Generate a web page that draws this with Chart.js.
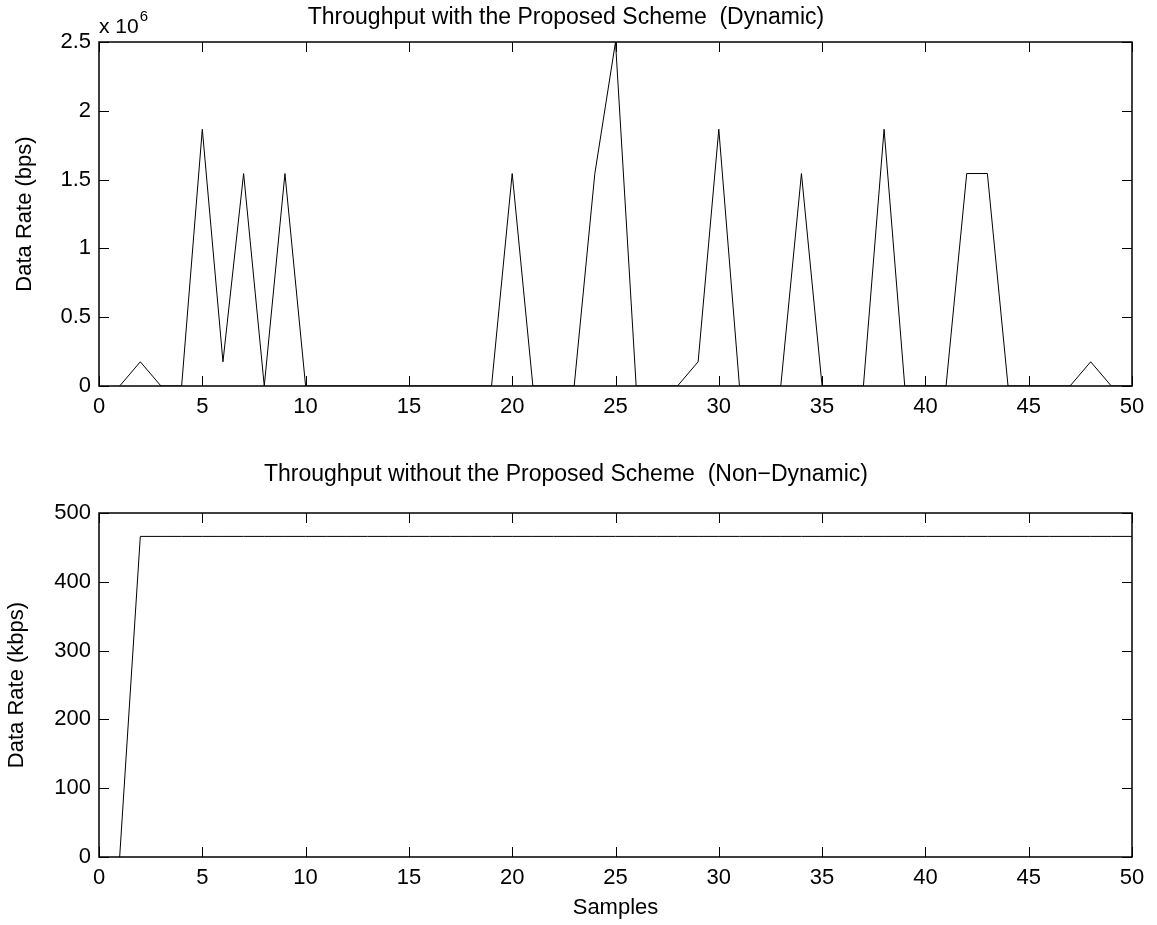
<!DOCTYPE html>
<html>
<head>
<meta charset="utf-8">
<title>Throughput</title>
<script src="https://cdn.jsdelivr.net/npm/chart.js@4/dist/chart.umd.min.js"></script>
<style>
  body { margin: 0; background: #fff; }
  canvas { display: block; }
</style>
</head>
<body>
<canvas id="dynamicChart" width="1157" height="460"></canvas>
<canvas id="staticChart" width="1157" height="465"></canvas>
<script>
/* ====================
   DATA
==================== */
const samples = [
  1, 2, 3, 4, 5, 6, 7, 8, 9, 10,
  11, 12, 13, 14, 15, 16, 17, 18, 19, 20,
  21, 22, 23, 24, 25, 26, 27, 28, 29, 30,
  31, 32, 33, 34, 35, 36, 37, 38, 39, 40,
  41, 42, 43, 44, 45, 46, 47, 48, 49, 50
];

// bps, with the proposed (dynamic) scheme
const dynamicRate = [
  0, 176000, 0, 0, 1866000, 176000, 1544000, 0, 1544000, 0,
  0, 0, 0, 0, 0, 0, 0, 0, 0, 1544000,
  0, 0, 0, 1544000, 2500000, 0, 0, 0, 176000, 1866000,
  0, 0, 0, 1544000, 0, 0, 0, 1866000, 0, 0,
  0, 1544000, 1544000, 0, 0, 0, 0, 176000, 0, 0
];

// kbps, without the proposed scheme
const staticRate = [
  0, 466, 466, 466, 466, 466, 466, 466, 466, 466,
  466, 466, 466, 466, 466, 466, 466, 466, 466, 466,
  466, 466, 466, 466, 466, 466, 466, 466, 466, 466,
  466, 466, 466, 466, 466, 466, 466, 466, 466, 466,
  466, 466, 466, 466, 466, 466, 466, 466, 466, 466
];

const sampleTicks = [0, 5, 10, 15, 20, 25, 30, 35, 40, 45, 50];
const dynamicTicks = [0, 500000, 1000000, 1500000, 2000000, 2500000];
const staticTicks = [0, 100, 200, 300, 400, 500];

/* ====================
   STYLE
==================== */
const FONT = '"Liberation Sans", Arial, Helvetica, sans-serif';
const TICK_LEN = 10;

Chart.defaults.font.family = FONT;
Chart.defaults.font.size = 22;
Chart.defaults.color = "#000";

// box around the plot with inward ticks on all four sides
const framePlugin = {
  id: "frame",
  afterDatasetsDraw(chart) {
    const { ctx, chartArea: a, scales: { x, y } } = chart;
    ctx.save();
    ctx.strokeStyle = "#000";
    ctx.lineWidth = 1;
    ctx.beginPath();
    x.ticks.forEach(t => {
      const px = Math.round(x.getPixelForValue(t.value)) + 0.5;
      ctx.moveTo(px, a.bottom);
      ctx.lineTo(px, a.bottom - TICK_LEN);
      ctx.moveTo(px, a.top);
      ctx.lineTo(px, a.top + TICK_LEN);
    });
    y.ticks.forEach(t => {
      const py = Math.round(y.getPixelForValue(t.value)) + 0.5;
      ctx.moveTo(a.left, py);
      ctx.lineTo(a.left + TICK_LEN, py);
      ctx.moveTo(a.right, py);
      ctx.lineTo(a.right - TICK_LEN, py);
    });
    ctx.stroke();
    ctx.lineWidth = 1.5;
    ctx.strokeRect(a.left, a.top, a.right - a.left, a.bottom - a.top);
    ctx.restore();
  }
};

// "x 10^6" multiplier above the y axis
const exponentPlugin = {
  id: "exponent",
  afterDraw(chart) {
    const { ctx, chartArea: a } = chart;
    ctx.save();
    ctx.fillStyle = "#000";
    ctx.textAlign = "left";
    ctx.textBaseline = "alphabetic";
    ctx.font = `21px ${FONT}`;
    ctx.fillText("x 10", a.left, a.top - 9);
    const w = ctx.measureText("x 10").width;
    ctx.font = `15px ${FONT}`;
    ctx.fillText("6", a.left + w + 1, a.top - 21);
    ctx.restore();
  }
};

function buildChart(canvas, opts) {
  return new Chart(canvas, {
    type: "line",
    data: {
      labels: samples,
      datasets: [{
        data: opts.values,
        borderColor: "#000",
        borderWidth: 1,
        pointRadius: 0,
        tension: 0,
        fill: false
      }]
    },
    options: {
      responsive: false,
      animation: false,
      devicePixelRatio: 1,
      layout: { padding: { left: 0, right: 25, top: 0, bottom: 0 } },
      plugins: {
        legend: { display: false },
        tooltip: { enabled: false },
        title: {
          display: true,
          text: opts.title,
          color: "#000",
          font: { size: 23, weight: "normal" },
          padding: opts.titlePadding
        }
      },
      scales: {
        x: {
          type: "linear",
          min: 0,
          max: 50,
          grid: { display: false, drawTicks: false },
          border: { display: false },
          ticks: { padding: 8, maxRotation: 0 },
          afterBuildTicks: s => { s.ticks = sampleTicks.map(v => ({ value: v })); },
          afterFit: s => { s.height = opts.xHeight; },
          title: {
            display: !!opts.xTitle,
            text: opts.xTitle || "",
            padding: { top: 0, bottom: 4 }
          }
        },
        y: {
          type: "linear",
          min: opts.yTicks[0],
          max: opts.yTicks[opts.yTicks.length - 1],
          grid: { display: false, drawTicks: false },
          border: { display: false },
          ticks: { padding: 8, callback: opts.yLabel },
          afterBuildTicks: s => { s.ticks = opts.yTicks.map(v => ({ value: v })); },
          afterFit: s => { s.width = 99; },
          title: {
            display: true,
            text: opts.yTitle,
            padding: { top: opts.yTitlePad, bottom: 0 }
          }
        }
      }
    },
    plugins: opts.plugins
  });
}

/* ====================
   CHARTS
==================== */
buildChart(document.getElementById("dynamicChart"), {
  values: dynamicRate,
  title: "Throughput with the Proposed Scheme  (Dynamic)",
  titlePadding: { top: 4.2, bottom: 10.2 },
  yTicks: dynamicTicks,
  yLabel: v => String(v / 1e6),
  yTitle: "Data Rate (bps)",
  yTitlePad: 12,
  xHeight: 74,
  plugins: [framePlugin, exponentPlugin]
});

buildChart(document.getElementById("staticChart"), {
  values: staticRate,
  title: "Throughput without the Proposed Scheme  (Non\u2212Dynamic)",
  titlePadding: { top: 0.6, bottom: 24.8 },
  yTicks: staticTicks,
  yLabel: v => String(v),
  yTitle: "Data Rate (kbps)",
  yTitlePad: 4,
  xHeight: 68,
  xTitle: "Samples",
  plugins: [framePlugin]
});
</script>
</body>
</html>
